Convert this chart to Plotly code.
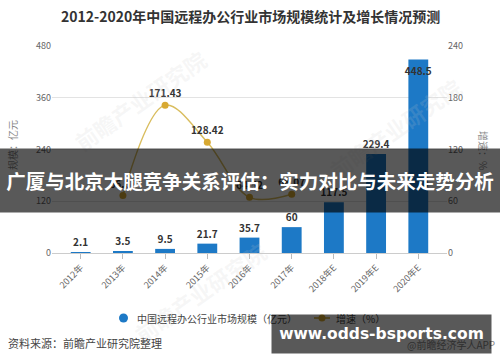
import plotly.graph_objects as go

categories = ["2012年", "2013年", "2014年", "2015年", "2016年", "2017年", "2018年E", "2019年E", "2020年E"]
market_size = [2.1, 3.5, 9.5, 21.7, 35.7, 60, 117.5, 229.4, 448.5]
size_labels = ["2.1", "3.5", "9.5", "21.7", "35.7", "60", "117.5", "229.4", "448.5"]
growth = [None, 66.67, 171.43, 128.42, 64.52, 68.07, None, None, None]
growth_labels = ["", "66.67", "171.43", "128.42", "64.52", "68.07", "", "", ""]
left_ticks = [0, 120, 240, 360, 480]
right_ticks = [0, 60, 120, 180, 240]

W, H = 500, 362
L, R, T, B = 52, 53, 46, 109
PW, PH = W - L - R, H - T - B
FONT = "Noto Sans CJK SC, Noto Sans, sans-serif"


def px(x):
    return (x - L) / PW


def py(y):
    return (H - B - y) / PH


ymax = left_ticks[-1]
bar_pos = ["inside" if v > 0.9 * ymax else "outside" for v in market_size]

fig = go.Figure()
fig.add_trace(go.Bar(
    x=categories, y=market_size, text=size_labels, textposition=bar_pos,
    insidetextanchor="end", constraintext="none", cliponaxis=False, textangle=0,
    textfont=dict(size=10, color="#333", family=FONT, weight="bold"),
    insidetextfont=dict(size=10, color="#333", family=FONT, weight="bold"),
    outsidetextfont=dict(size=10, color="#333", family=FONT, weight="bold"),
    marker=dict(color="#1d79c6", line=dict(width=0)), width=0.47,
    showlegend=False, hoverinfo="skip",
))
fig.add_trace(go.Scatter(
    x=categories, y=growth, yaxis="y2", mode="lines+markers+text",
    text=growth_labels, textposition="top center", cliponaxis=False,
    textfont=dict(size=10, color="#333", family=FONT, weight="bold"),
    line=dict(color="#d9bd5e", width=1.5, shape="spline"),
    marker=dict(color="#d8a932", size=7), connectgaps=False,
    showlegend=False, hoverinfo="skip",
))

ann = []
# title
ann.append(dict(x=px(250), y=py(16), xref="paper", yref="paper", showarrow=False,
                text="2012-2020年中国远程办公行业市场规模统计及增长情况预测",
                font=dict(size=14, color="#333", family=FONT, weight="bold"),
                xanchor="center", yanchor="middle"))
# axis titles
ann.append(dict(x=px(12), y=py(145), xref="paper", yref="paper", showarrow=False,
                text="规模：亿元", textangle=-90,
                font=dict(size=10, color="#888", family=FONT), xanchor="center", yanchor="middle"))
ann.append(dict(x=px(484), y=py(150), xref="paper", yref="paper", showarrow=False,
                text="增速：%", textangle=90,
                font=dict(size=10, color="#888", family=FONT), xanchor="center", yanchor="middle"))
# watermarks
for wx, wy in [(140, 100), (395, 128), (200, 292)]:
    ann.append(dict(x=px(wx), y=py(wy), xref="paper", yref="paper", showarrow=False,
                    text="前瞻产业研究院", textangle=-35,
                    font=dict(size=22, color="rgba(200,200,200,0.16)", family=FONT, weight="bold"),
                    xanchor="center", yanchor="middle"))
# legend (manual)
ann.append(dict(x=px(135), y=py(318), xref="paper", yref="paper", showarrow=False,
                text="中国远程办公行业市场规模（亿元）",
                font=dict(size=10, color="#444", family=FONT), xanchor="left", yanchor="middle"))
ann.append(dict(x=px(334), y=py(318), xref="paper", yref="paper", showarrow=False,
                text="增速（%）",
                font=dict(size=10, color="#444", family=FONT), xanchor="left", yanchor="middle"))
# source
ann.append(dict(x=px(6), y=py(343), xref="paper", yref="paper", showarrow=False,
                text="资料来源：前瞻产业研究院整理",
                font=dict(size=11, color="#444", family=FONT), xanchor="left", yanchor="middle"))
ann.append(dict(x=px(497), y=py(344), xref="paper", yref="paper", showarrow=False,
                text="@前瞻经济学人APP",
                font=dict(size=10, color="#888", family=FONT), xanchor="right", yanchor="middle"))
# overlay banner
ann.append(dict(x=px(250), y=py(180.5), xref="paper", yref="paper", showarrow=False,
                text="广厦与北京大腿竞争关系评估：实力对比与未来走势分析",
                width=520, height=63, bgcolor="rgba(0,0,0,0.65)", borderpad=0,
                font=dict(size=19.5, color="white", family=FONT, weight="bold"),
                xanchor="center", yanchor="middle", valign="middle"))
# overlay url box
ann.append(dict(x=px(381.5), y=py(334), xref="paper", yref="paper", showarrow=False,
                text="www.odds-bsports.com",
                width=219, height=38, bgcolor="rgba(0,0,0,0.65)", borderpad=0,
                font=dict(size=15.5, color="white", family="DejaVu Sans, sans-serif", weight="bold"),
                xanchor="center", yanchor="middle", valign="middle"))

shapes = [
    dict(type="circle", xref="paper", yref="paper",
         x0=px(119), x1=px(128), y0=py(313.5), y1=py(322.5),
         fillcolor="#1d79c6", line=dict(width=0)),
    dict(type="line", xref="paper", yref="paper",
         x0=px(314), x1=px(330), y0=py(318), y1=py(318),
         line=dict(color="#d9bd5e", width=2)),
    dict(type="circle", xref="paper", yref="paper",
         x0=px(318.5), x1=px(325.5), y0=py(314.5), y1=py(321.5),
         fillcolor="#d8a932", line=dict(width=0)),
]

fig.update_layout(
    width=W, height=H, autosize=False,
    margin=dict(l=L, r=R, t=T, b=B, pad=0, autoexpand=False),
    paper_bgcolor="white", plot_bgcolor="white",
    font=dict(family=FONT, size=9, color="#666"),
    xaxis=dict(type="category", range=[-0.68, 8.68], tickangle=-45, automargin=False,
               ticks="outside", ticklen=5, tickcolor="#bbb",
               showline=True, linecolor="#ccc", linewidth=1,
               showgrid=False, zeroline=False,
               tickfont=dict(size=9, color="#666", family=FONT)),
    yaxis=dict(range=[0, ymax], tickvals=left_ticks, showgrid=True, automargin=False,
               gridcolor="#e3e3e3", gridwidth=1, zeroline=False, showline=False,
               tickfont=dict(size=9, color="#666", family=FONT), ticks=""),
    yaxis2=dict(range=[0, right_ticks[-1]], tickvals=right_ticks, overlaying="y",
                side="right", showgrid=False, zeroline=False, showline=False, automargin=False,
                tickfont=dict(size=9, color="#666", family=FONT), ticks=""),
    annotations=ann, shapes=shapes, showlegend=False, bargap=0.5,
)

fig.write_html("out.html", config={"displayModeBar": False},
               post_script="document.body.style.margin='0';document.body.style.overflow='hidden';")
